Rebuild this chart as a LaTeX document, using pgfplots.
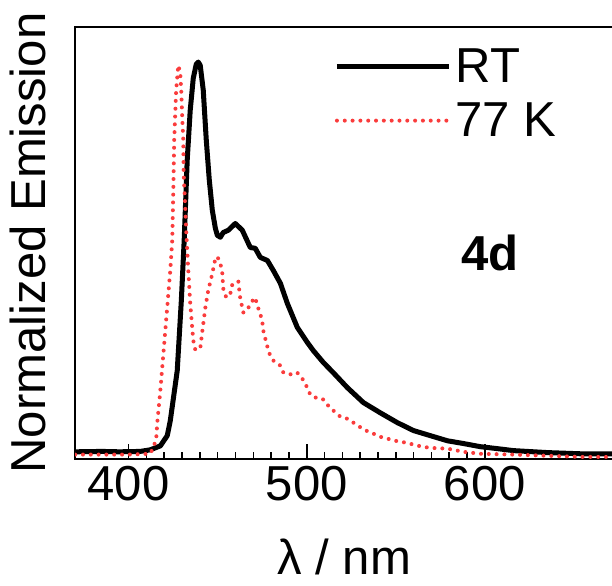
\documentclass[border=0pt]{standalone}
\usepackage{fontspec}
\setmainfont{Liberation Sans}
\usepackage{pgfplots}
\pgfplotsset{compat=1.18}

\definecolor{dotred}{RGB}{250,60,60}

\begin{document}
\begin{tikzpicture}[font=\fontsize{24.5}{29}\selectfont]
\begin{axis}[
    scale only axis,
    width=268.5pt, height=215.5pt,
    xmin=370, xmax=672,
    ymin=-0.008, ymax=1.089,
    xtick={400,500,600},
    minor x tick num=9,
    ytick=\empty,
    xtick pos=bottom,
    tick align=inside,
    major tick length=7.5pt,
    minor tick length=3.5pt,
    every tick/.style={black, line width=0.8pt},
    axis line style={line width=1pt},
    /pgf/number format/assume math mode=true,
    tick label style={font=\fontsize{24.5}{29}\selectfont},
    label style={font=\fontsize{24.5}{29}\selectfont},
    xlabel={λ / nm},
    xlabel style={yshift=-12pt},
    ylabel={Normalized Emission},
    ylabel style={yshift=11pt},
    legend cell align=left,
    legend style={draw=none, fill=none, at={(rel axis cs:0.47,0.97)}, anchor=north west,
        font=\fontsize{24.5}{29}\selectfont, row sep=4.5pt},
    legend image code/.code={\draw[#1] (0pt,0pt) -- (56pt,0pt);},
]
\coordinate (bl) at (rel axis cs:0,0);
\coordinate (tr) at (rel axis cs:1,1);

% RT
\addplot[black, line width=2.5pt, line join=round] coordinates {
(370,0.010) (385,0.011) (395,0.010) (406.5,0.011) (412.1,0.015) (417.8,0.025)
(421.7,0.051) (423.4,0.089) (427.3,0.216) (429.6,0.394) (431.2,0.547) (432.9,0.751)
(434.6,0.878) (436.3,0.959) (438.0,0.995) (439.1,1.000) (440.2,0.992) (441.9,0.929)
(443.6,0.802) (445.3,0.700) (447.0,0.623) (448.7,0.578) (449.8,0.560) (451.5,0.555)
(453.1,0.567) (456.0,0.573) (459.9,0.590) (463.8,0.573) (468.3,0.529) (471.1,0.527)
(473.9,0.504) (477.9,0.496) (481.2,0.471) (485.2,0.438) (489.1,0.387) (494.7,0.326)
(500.3,0.288) (503.7,0.267) (509.3,0.237) (514.9,0.211) (522.8,0.173) (531.8,0.135)
(541.3,0.109) (550.9,0.084) (559.9,0.064) (569.4,0.051) (579.0,0.038) (588.0,0.031)
(597.5,0.023) (607.1,0.018) (616.1,0.013) (635.2,0.008) (653.7,0.005) (671.7,0.005)
};
\addlegendentry{RT}

% 77 K
\addplot[dotred, line width=2pt, line cap=round, dash pattern=on 0pt off 3.9pt] coordinates {
(370,0.003) (400,0.003) (412.1,0.005) (413.8,0.020) (415.5,0.043) (416.1,0.084)
(417.8,0.165) (420.6,0.318) (423.4,0.471) (424.5,0.547) (425.1,0.674) (425.6,0.802)
(426.7,0.929) (427.9,0.992) (429.0,0.972) (429.6,0.921) (430.1,0.860) (430.7,0.802)
(430.9,0.718) (431.8,0.631) (432.4,0.565) (433.5,0.471) (434.6,0.387) (435.7,0.326)
(436.3,0.293) (437.4,0.270) (440.2,0.272) (441.3,0.313) (443.0,0.374) (444.7,0.420)
(447.0,0.463) (448.7,0.501) (449.8,0.506) (451.5,0.489) (452.6,0.463) (453.1,0.425)
(454.8,0.402) (457.1,0.412) (458.2,0.435) (459.9,0.440) (461.6,0.443) (462.1,0.422)
(462.7,0.399) (463.8,0.377) (464.4,0.364) (466.6,0.369) (468.3,0.387) (471.1,0.402)
(472.2,0.382) (473.9,0.361) (475.1,0.338) (475.6,0.318) (476.7,0.298) (477.9,0.277)
(479.0,0.260) (481.2,0.242) (485.2,0.229) (486.9,0.211) (491.9,0.206) (494.7,0.211)
(497.5,0.196) (500.3,0.173) (502.0,0.155) (504.8,0.148) (508.8,0.145) (512.1,0.127)
(514.9,0.115) (518.9,0.099) (522.8,0.094) (526.2,0.084) (531.2,0.069) (534.6,0.061)
(539.1,0.053) (542.5,0.046) (547.5,0.041) (551.5,0.036) (556.5,0.033) (559.9,0.028)
(564.9,0.023) (569.4,0.020) (579.0,0.018) (588.0,0.010) (597.5,0.005) (616.1,0.003)
(635.2,0.000) (653.7,-0.003) (671.7,-0.003)
};
\addlegendentry{77 K}

\node[anchor=base, font=\fontsize{24.5}{29}\selectfont\bfseries] at (axis cs:603,0.471) {4d};
\end{axis}
\pgfresetboundingbox
\path[use as bounding box] ([xshift=-37.5pt,yshift=-63pt]bl) rectangle ([xshift=-0.6pt,yshift=13.5pt]tr);
\end{tikzpicture}
\end{document}
